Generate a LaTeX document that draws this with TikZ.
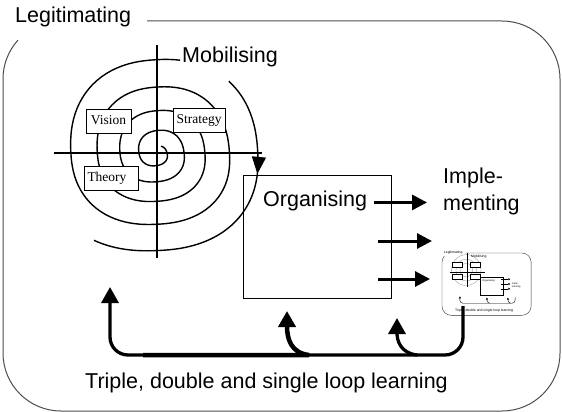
\documentclass[tikz,border=0pt]{standalone}
\usepackage{fontspec}
\setmainfont{Liberation Sans}
\newfontfamily\boxfont{Liberation Serif}
\usetikzlibrary{arrows.meta}
\tikzset{
declare function={
  spr(\a)=10+3.8*(\a/90)+0.117*(\a/90)*(\a/90);
  spf(\a)=((abs(cos(\a))+0.0001)^2.3+(abs(sin(\a))+0.0001)^2.3)^(-1/2.3);
  spx(\a)=157+spr(\a)*spf(\a)*cos(\a);
  spy(\a)=153+spr(\a)*spf(\a)*sin(\a)*ifthenelse(sin(\a)>0,0.9,1);
}}

\begin{document}
\begin{tikzpicture}[x=1pt,y=-1pt,
big/.style={inner sep=0pt, font=\fontsize{21.5}{27}\selectfont},
lbl/.style={draw, fill=white, line width=0.8pt, inner sep=3pt, text height=12pt, text depth=5pt, minimum height=24pt, font=\boxfont\fontsize{13.5}{15}\selectfont},
spl/.style={line width=1.4pt},
outarrow/.style={line width=3pt,-{Triangle[length=15pt,width=15pt]}},
fb/.style={line width=3.3pt,-{Triangle[length=16pt,width=17pt]}},
tharrow/.style={line width=0.4pt,-{Triangle[length=2pt,width=2pt]}}]
%
\useasboundingbox (0,0) rectangle (562,412);

% frame
\draw[black!70, line width=1pt, rounded corners=58pt] (147,21) -- (560,21) -- (560,411) -- (3,411) -- (3,79);
\draw[black!70, line width=1pt] (3,79) arc[start angle=180, end angle=222, radius=58];
\node[big, anchor=base west] (legit) at (15,23) {Legitimating};

% spiral
\draw[spl] (157,45) -- (157,258);
\draw[spl] (54,153) -- (262,153);
\draw[spl] plot[domain=-60:1364, samples=400] ({spx(\x)},{spy(\x)});
\draw[spl,-{Triangle[length=17pt,width=14pt]}] plot[domain=1395:1453, samples=30] ({spx(\x)},{spy(\x)});
\draw[spl] plot[domain=1445:1563, samples=60] ({spx(\x)},{spy(\x)});
\node[big, anchor=base west] (mobil) at (182,63) {Mobilising};

\node[lbl, minimum width=45pt] (vision) at (108.5,121) {Vision};
\node[lbl, minimum width=52pt] (strategy) at (199,120) {Strategy};
\node[lbl, text width=48pt] (theory) at (111.5,178) {Theory};

% organising
\node[draw, line width=1pt, minimum width=148pt, minimum height=123pt] (organ) at (317,236.5) {};
\node[big, anchor=base west] (orgtext) at (263,206) {Organising};
\node[big, anchor=base west, align=left] (impl) at (443,210) {Imple-\\menting};

\coordinate (o2) at (378,241);
\coordinate (e2) at (432,241);
\coordinate (o3) at (378,279);
\coordinate (e3) at (430,279);
\draw[outarrow] ([xshift=7pt,yshift=-2pt]orgtext.east) -- ([xshift=-16pt,yshift=-2pt]impl.west |- orgtext.east);
\draw[outarrow] (o2) -- (e2);
\draw[outarrow] (o3) -- (e3);

% thumbnail
\node[minimum width=90pt, minimum height=62pt, inner sep=0pt] (thumb) at (487,283) {};
\begin{scope}[shift={(441.5,249.6)}, scale=0.16, every node/.append style={transform shape}]
\draw[black!80, line width=0.4pt, rounded corners=9.3pt] (147,21) -- (560,21) -- (560,411) -- (3,411) -- (3,79);
\draw[black!80, line width=0.4pt] (3,79) arc[start angle=180, end angle=222, radius=58];
\node[big, anchor=base west] (tlegit) at (15,23) {Legitimating};
\foreach \r in {40,65,92}
  \draw[black!45, line width=0.3pt] (155,128) ellipse[x radius=\r, y radius=1.05*\r];
\draw[line width=0.6pt] (160,21) -- (160,234);
\draw[line width=0.6pt] (53,140) -- (272,140);
\foreach \bx/\by in {97/93, 209/93, 97/171, 209/171}
  \draw[line width=0.3pt, fill=white] (\bx-31,\by-15) rectangle (\bx+31,\by+15);
\node[big, anchor=base west] (tmobil) at (185,50) {Mobilising};
\node[draw, line width=0.4pt, minimum width=144pt, minimum height=113pt] (torgan) at (312,227.5) {};
\node[inner sep=0pt, font=\fontsize{16}{19}\selectfont, anchor=north west] (torgtext) at (255,185) {Organising};
\draw[tharrow] (370,185) -- (430,185);
\draw[tharrow] (370,215) -- (430,215);
\draw[tharrow] (370,245) -- (430,245);
\node[inner sep=0pt, font=\fontsize{15}{18}\selectfont, anchor=north west, align=left] (timpl) at (440,205) {Imple-\\menting};
\draw[tharrow, rounded corners=3pt] (460,300) |- (115,335) -- (115,292);
\draw[tharrow] (300,335) .. controls (286,333) and (284,322) .. (284,300);
\draw[tharrow] (432,335) .. controls (417,333) and (415,322) .. (415,300);
\node[big, anchor=base west] (tlearn) at (85,388) {Triple, double and single loop learning};
\end{scope}

% learning loops
\coordinate (fbstart) at ([xshift=-24pt,yshift=8pt]thumb.south);
\coordinate (loopy) at (0,355);
\coordinate (tipL) at (110,287);
\coordinate (tipM) at (287,311);
\coordinate (tipR) at (397,318);
\draw[fb, rounded corners=18pt] (fbstart) |- (tipL |- loopy) -- (tipL);
\draw[fb, line width=4.5pt] ([xshift=33pt]tipL |- loopy) -- ([xshift=22pt]tipM |- loopy) .. controls +(-18,-2) and +(0,28) .. (tipM);
\draw[fb] ([xshift=20pt]tipR |- loopy) .. controls +(-17,-2) and +(0,22) .. (tipR);
\node[big, anchor=base west] (learn) at (85,388) {Triple, double and single loop learning};

\end{tikzpicture}
\end{document}
